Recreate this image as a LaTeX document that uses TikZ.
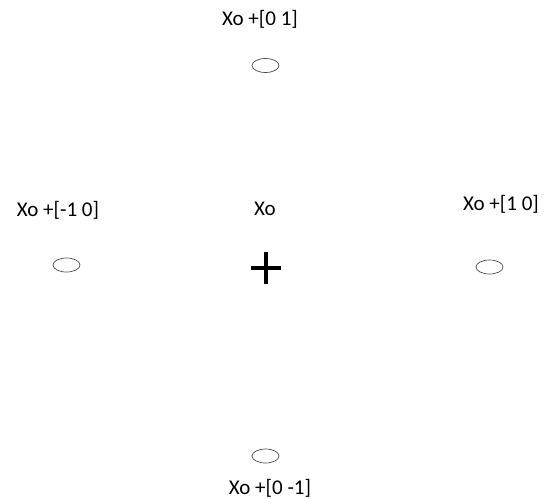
\documentclass[tikz,border=0pt]{standalone}
\usepackage{fontspec}
\setmainfont{Carlito}
\usetikzlibrary{shapes.geometric}

\begin{document}
\begin{tikzpicture}[x=1pt, y=-1pt, every node/.style={font=\fontsize{21}{24}\selectfont, inner sep=0pt}, probe/.style={ellipse, draw=black!70, line width=0.7pt, minimum width=27pt, minimum height=14pt}]
	\useasboundingbox (0,0) rectangle (546,498);
	\coordinate (xo) at (265.5,267.5);
	\draw[line width=4pt] ([xshift=-15pt]xo) -- ([xshift=15pt]xo) ([yshift=-16pt]xo) -- ([yshift=16pt]xo);
	\node at (265,209) {Xo};
	\node[probe] (up) at (265.5,65.5) {};
	\node[probe] (left) at (66.5,265) {};
	\node[probe] (right) at (489.5,267) {};
	\node[probe] (down) at (265.5,456) {};
	\node at (260,19) {Xo +[0 1]};
	\node at (58,210) {Xo +[-1 0]};
	\node at (501,204) {Xo +[1 0]};
	\node at (270,488) {Xo +[0 -1]};
\end{tikzpicture}
\end{document}
